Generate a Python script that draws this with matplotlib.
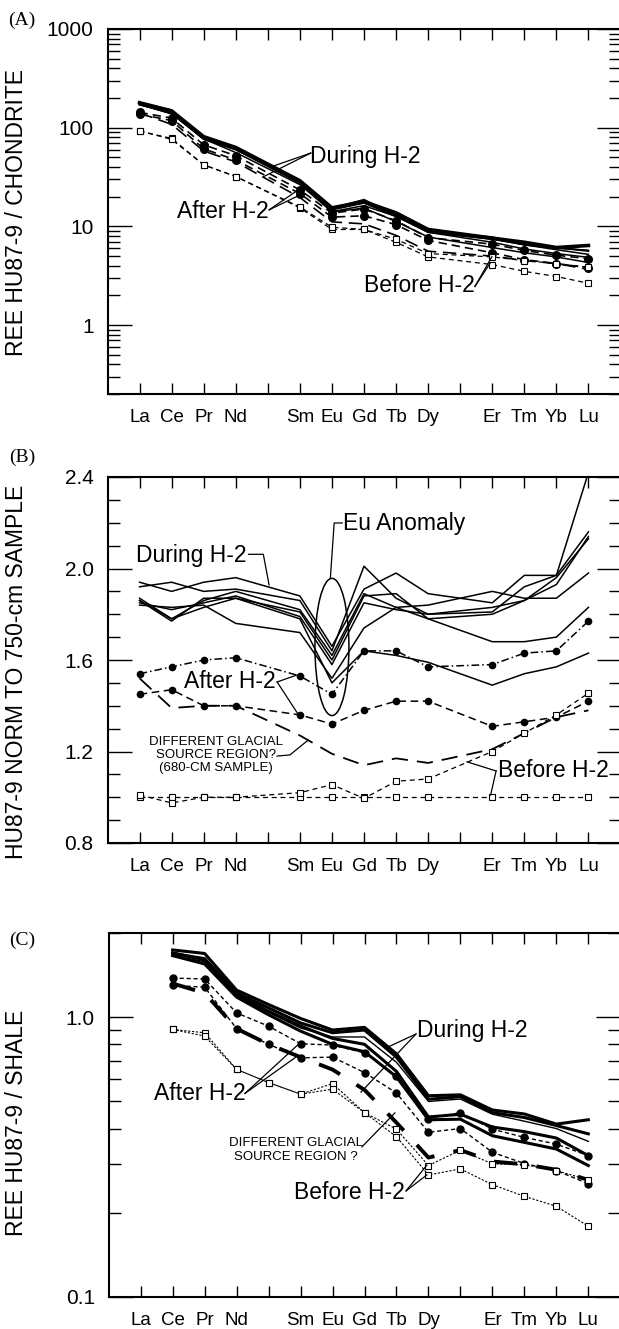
import matplotlib
matplotlib.use('Agg')
import matplotlib.pyplot as plt
from matplotlib.patches import Ellipse
from matplotlib.ticker import FixedLocator, LogLocator, MultipleLocator, NullFormatter, FormatStrFormatter

plt.rcParams['font.family'] = ['Liberation Sans', 'DejaVu Sans']

W, H = 619, 1329

# tick labels (Pm and Ho have no label)
elements = ['La', 'Ce', 'Pr', 'Nd', '', 'Sm', 'Eu', 'Gd', 'Tb', 'Dy', '', 'Er', 'Tm', 'Yb', 'Lu']
ree_pos = [0, 1, 2, 3, 5, 6, 7, 8, 9, 11, 12, 13, 14]     # panels A and B
shale_pos = list(range(1, 15))                          # panel C

# ---- (A) chondrite normalised
a_during = [
    [179, 148, 81, 63, 29.0, 15.4, 17.8, 13.7, 9.3, 7.6, 6.9, 6.1, 6.4],
    [177, 151, 79, 61, 28.6, 15.3, 18.7, 12.9, 8.8, 7.4, 6.7, 6.1, 5.7],
    [173, 139, 78, 61, 28.0, 15.1, 17.6, 12.6, 9.0, 7.8, 6.5, 5.8, 5.2],
    [172, 138, 78, 60, 27.9, 14.9, 17.5, 13.0, 8.7, 7.4, 6.5, 6.0, 5.7],
    [171, 142, 77, 60, 27.6, 14.7, 17.2, 12.6, 8.8, 7.5, 6.5, 6.1, 5.6],
    [170, 143, 77, 56, 26.5, 14.1, 16.2, 12.6, 8.7, 6.9, 5.9, 5.3, 4.85],
    [172, 139, 76, 60, 27.4, 14.0, 15.3, 11.2, 7.8, 6.1, 5.4, 4.9, 4.3],
]
a_after = [
    [143, 125, 67, 52, 23.4, 13.6, 15.0, 11.4, 7.7, 6.6, 5.7, 5.1, 4.7],
    [137, 118, 61, 47, 21.5, 12.4, 12.8, 10.4, 7.2, 5.4, 4.6, 4.2, 3.8],
]
a_glacial = [141, 108, 58, 45, 19.6, 11.1, 10.6, 8.1, 5.6, 5.0, 4.5, 4.2, 3.66]
a_before = [
    [92, 78, 42, 32, 15.4, 9.3, 9.3, 6.9, 4.9, 4.1, 3.5, 3.1, 2.65],
    [93, 76, 42, 32, 15.7, 9.8, 9.3, 7.4, 5.3, 4.9, 4.5, 4.2, 3.85],
]

# ---- (B) normalised to 750-cm sample
b_during = [
    [1.94, 1.90, 1.94, 1.96, 1.88, 1.66, 1.91, 1.98, 1.89, 1.85, 1.97, 1.97, 2.42],
    [1.92, 1.94, 1.90, 1.91, 1.86, 1.64, 2.01, 1.87, 1.80, 1.81, 1.92, 1.97, 2.16],
    [1.87, 1.78, 1.86, 1.90, 1.82, 1.62, 1.89, 1.83, 1.84, 1.90, 1.87, 1.87, 1.98],
    [1.86, 1.77, 1.87, 1.87, 1.81, 1.60, 1.88, 1.89, 1.78, 1.80, 1.86, 1.93, 2.14],
    [1.85, 1.82, 1.85, 1.88, 1.79, 1.58, 1.85, 1.82, 1.80, 1.83, 1.86, 1.96, 2.13],
    [1.84, 1.83, 1.84, 1.76, 1.72, 1.52, 1.74, 1.83, 1.78, 1.68, 1.68, 1.70, 1.83],
    [1.86, 1.78, 1.83, 1.87, 1.78, 1.50, 1.64, 1.62, 1.59, 1.49, 1.54, 1.57, 1.63],
]
b_after_1 = [1.54, 1.57, 1.60, 1.61, 1.53, 1.45, 1.64, 1.64, 1.57, 1.58, 1.63, 1.64, 1.77]
b_after_2 = [1.45, 1.47, 1.40, 1.40, 1.36, 1.32, 1.38, 1.42, 1.42, 1.31, 1.33, 1.35, 1.42]
b_glacial = [1.52, 1.39, 1.40, 1.40, 1.27, 1.19, 1.14, 1.17, 1.15, 1.21, 1.28, 1.35, 1.38]
b_before = [
    [1.00, 1.00, 1.00, 1.00, 1.00, 1.00, 1.00, 1.00, 1.00, 1.00, 1.00, 1.00, 1.00],
    [1.01, 0.975, 1.00, 1.00, 1.02, 1.055, 0.995, 1.07, 1.08, 1.20, 1.28, 1.36, 1.455],
]

# ---- (C) shale normalised
c_during = [
    [1.74, 1.69, 1.25, 1.11, 0.99, 0.90, 0.92, 0.74, 0.524, 0.528, 0.466, 0.451, 0.415, 0.43],
    [1.69, 1.62, 1.22, 1.08, 0.954, 0.88, 0.90, 0.72, 0.509, 0.52, 0.456, 0.438, 0.41, 0.383],
    [1.70, 1.60, 1.20, 1.05, 0.93, 0.84, 0.80, 0.64, 0.44, 0.45, 0.405, 0.39, 0.37, 0.32],
    [1.66, 1.55, 1.18, 1.02, 0.892, 0.80, 0.753, 0.612, 0.43, 0.432, 0.377, 0.357, 0.338, 0.295],
]
c_during_thin = [1.66, 1.58, 1.19, 1.04, 0.915, 0.85, 0.85, 0.69, 0.50, 0.51, 0.45, 0.425, 0.40, 0.36]
c_after = [
    [1.38, 1.37, 1.036, 0.929, 0.804, 0.795, 0.746, 0.617, 0.434, 0.456, 0.398, 0.372, 0.352, 0.32],
    [1.30, 1.28, 0.911, 0.80, 0.716, 0.72, 0.634, 0.536, 0.388, 0.40, 0.329, 0.30, 0.283, 0.254],
]
c_glacial = [1.32, 1.22, 0.91, 0.80, 0.72, 0.65, 0.55, 0.42, 0.315, 0.335, 0.305, 0.298, 0.285, 0.262]
c_before = [
    [0.904, 0.88, 0.651, 0.584, 0.531, 0.579, 0.456, 0.398, 0.295, 0.335, 0.299, 0.297, 0.283, 0.262],
    [0.904, 0.856, 0.651, 0.584, 0.531, 0.553, 0.456, 0.374, 0.273, 0.287, 0.252, 0.229, 0.211, 0.179],
]

fig = plt.figure(figsize=(W / 100, H / 100), dpi=100)


def panel(left, top, right, bottom):
    return fig.add_axes([left / W, 1 - bottom / H, (right - left) / W, (bottom - top) / H])


def style(ax):
    # called last, after scale / locators are set
    ax.set_xlim(-1, 15)
    ax.set_xticks(range(15))
    ax.set_xticklabels(elements, fontsize=13.5, va='baseline')
    ax.tick_params(axis='x', which='both', direction='in', top=True, length=8, width=1, pad=20)
    ax.tick_params(axis='y', which='major', direction='in', right=True, length=17, width=1,
                   pad=10, labelsize=15)
    ax.tick_params(axis='y', which='minor', direction='in', right=True, length=8.5, width=1)
    for s in ax.spines.values():
        s.set_linewidth(1.5)


def leader(ax, pts, lw=0.9):
    ax.plot([p[0] for p in pts], [p[1] for p in pts], color='k', lw=lw, clip_on=False)


LBL = 16.5

# ================= (A)
ax = panel(107.5, 29, 620.5, 394)
ax.set_yscale('log')
ax.set_ylim(0.2, 1000)
ax.yaxis.set_major_locator(FixedLocator([1, 10, 100, 1000]))
ax.yaxis.set_major_formatter(FormatStrFormatter('%g'))
ax.yaxis.set_minor_locator(LogLocator(subs=range(2, 10), numticks=20))
ax.yaxis.set_minor_formatter(NullFormatter())
style(ax)

for i, vals in enumerate(a_during):
    ax.plot(ree_pos, vals, '-', color='k', lw=2.6 if i == 0 else 1.1)
for vals in a_after:
    ax.plot(ree_pos, vals, ls=(0, (5, 3)), color='k', lw=1.2, marker='o', ms=5.5, mfc='k', mec='k')
ax.plot(ree_pos, a_glacial, ls=(0, (8, 4)), color='k', lw=1.2)
for vals in a_before:
    ax.plot(ree_pos, vals, ls=(0, (4, 3)), color='k', lw=0.9, marker='s', ms=4.3,
            mfc='white', mec='k', mew=0.8)

ax.text(5.32, 50.5, 'During H-2', fontsize=LBL, va='center', ha='left')
leader(ax, [(5.34, 55.3), (4.12, 40.3)])
leader(ax, [(5.34, 55.3), (3.86, 31.8)])
ax.text(4.01, 14.0, 'After H-2', fontsize=LBL, va='center', ha='right')
leader(ax, [(4.04, 14.7), (4.94, 23.3)])
leader(ax, [(4.04, 14.7), (5.0, 20.8)])
ax.text(10.46, 2.49, 'Before H-2', fontsize=LBL, va='center', ha='right')
leader(ax, [(10.46, 2.46), (10.94, 4.26)])
leader(ax, [(10.46, 2.46), (10.99, 4.93)])

# ================= (B)
ax = panel(107.5, 477, 620.5, 843)
ax.set_ylim(0.8, 2.4)
ax.yaxis.set_major_locator(MultipleLocator(0.4))
ax.yaxis.set_minor_locator(MultipleLocator(0.1))
ax.yaxis.set_major_formatter(FormatStrFormatter('%.1f'))
style(ax)

for vals in b_during:
    ax.plot(ree_pos, vals, '-', color='k', lw=1.1)
ax.plot(ree_pos, b_after_1, ls=(0, (5, 2, 1, 2)), color='k', lw=1.1, marker='o', ms=4.5, mfc='k')
ax.plot(ree_pos, b_after_2, ls=(0, (5, 3)), color='k', lw=1.1, marker='o', ms=4.5, mfc='k')
ax.plot(ree_pos, b_glacial, ls=(0, (9, 5)), color='k', lw=1.3)
for vals in b_before:
    ax.plot(ree_pos, vals, ls=(0, (4, 3)), color='k', lw=0.9, marker='s', ms=3.8,
            mfc='white', mec='k', mew=0.8)
ax.add_patch(Ellipse((6, 1.657), width=1.06, height=0.6, fill=False, lw=1.1, color='k'))

ax.text(3.35, 2.059, 'During H-2', fontsize=LBL, va='center', ha='right')
leader(ax, [(3.40, 2.062), (3.86, 2.062), (4.04, 1.928)])
ax.text(6.35, 2.195, 'Eu Anomaly', fontsize=LBL, va='center', ha='left')
leader(ax, [(6.32, 2.199), (6.07, 2.199), (5.95, 1.957)])
ax.text(4.23, 1.508, 'After H-2', fontsize=LBL, va='center', ha='right')
leader(ax, [(4.29, 1.504), (4.90, 1.534)])
leader(ax, [(4.29, 1.504), (4.94, 1.364)])
ax.text(2.39, 1.185, 'DIFFERENT GLACIAL\nSOURCE REGION?\n(680-CM SAMPLE)', fontsize=9.5,
        va='center', ha='center', linespacing=1.15)
leader(ax, [(4.29, 1.180), (4.69, 1.185), (5.26, 1.250)])
ax.text(11.18, 1.115, 'Before H-2', fontsize=LBL, va='center', ha='left')
leader(ax, [(11.12, 1.115), (10.21, 1.155)])
leader(ax, [(11.12, 1.115), (10.95, 1.010)])

# ================= (C)
ax = panel(108.7, 933, 620.3, 1297)
ax.set_yscale('log')
ax.set_ylim(0.1, 2.0)
ax.yaxis.set_major_locator(FixedLocator([0.1, 1.0]))
ax.yaxis.set_major_formatter(FormatStrFormatter('%.1f'))
ax.yaxis.set_minor_locator(LogLocator(subs=range(2, 10), numticks=20))
ax.yaxis.set_minor_formatter(NullFormatter())
style(ax)

for vals in c_during:
    ax.plot(shale_pos, vals, '-', color='k', lw=2.2)
ax.plot(shale_pos, c_during_thin, '-', color='k', lw=1.0)
for vals in c_after:
    ax.plot(shale_pos, vals, ls=(0, (3, 2)), color='k', lw=1.0, marker='o', ms=5, mfc='k')
ax.plot(shale_pos, c_glacial, ls=(0, (6, 5)), color='k', lw=2.8)
for vals in c_before:
    ax.plot(shale_pos, vals, ls=(0, (2, 1.5)), color='k', lw=0.8, marker='s', ms=3.8,
            mfc='white', mec='k', mew=0.8)

ax.text(8.64, 0.893, 'During H-2', fontsize=LBL, va='center', ha='left')
leader(ax, [(8.61, 0.871), (7.74, 0.783)])
leader(ax, [(8.61, 0.871), (6.89, 0.540)])
ax.text(3.27, 0.532, 'After H-2', fontsize=LBL, va='center', ha='right')
leader(ax, [(3.26, 0.534), (4.98, 0.809)])
leader(ax, [(3.26, 0.534), (4.86, 0.721)])
ax.text(4.86, 0.335, 'DIFFERENT GLACIAL\nSOURCE REGION ?', fontsize=9.5,
        va='center', ha='center', linespacing=1.15)
leader(ax, [(6.92, 0.344), (7.95, 0.455)])
ax.text(8.27, 0.237, 'Before H-2', fontsize=LBL, va='center', ha='right')
leader(ax, [(8.30, 0.2395), (8.95, 0.296)])
leader(ax, [(8.30, 0.2395), (8.95, 0.273)])

# ---- panel letters and axis titles
for letter, py in [('(A)', 20), ('(B)', 457), ('(C)', 940)]:
    fig.text(22 / W, 1 - py / H, letter, fontsize=14, family='Liberation Serif',
             ha='center', va='center')
for label, py in [('REE HU87-9 / CHONDRITE', 212), ('HU87-9 NORM TO 750-cm SAMPLE', 672),
                  ('REE HU87-9 / SHALE', 1123)]:
    fig.text(17 / W, 1 - py / H, label, fontsize=16.5, rotation=90, ha='center', va='center')

fig.savefig('out.png', dpi=100)
